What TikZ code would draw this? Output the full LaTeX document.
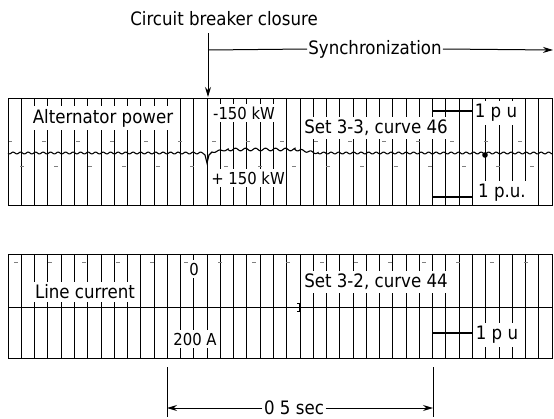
\documentclass[tikz,border=0pt]{standalone}
\usepackage{fontspec}
\newfontfamily\chartfont{DejaVu Sans Condensed}
\usetikzlibrary{arrows.meta}
\begin{document}
\begin{tikzpicture}[x=1pt,y=-1pt,
  gridline/.style={line width=0.75pt},
  chartframe/.style={line width=1pt},
  faint/.style={line width=0.5pt, gray, dash pattern=on 4pt off 30pt},
  lbl/.style={fill=white, inner xsep=1.5pt, inner ysep=3pt, font=\chartfont\fontsize{18.5}{21}\selectfont},
  slbl/.style={fill=white, inner xsep=1.5pt, inner ysep=3pt, font=\chartfont\fontsize{16.5}{19}\selectfont},
  ann/.style={inner sep=1pt, font=\chartfont\fontsize{18.5}{21}\selectfont},
  scalebar/.style={line width=2pt},
  tracepen/.style={line width=1.1pt},
  dimline/.style={line width=1pt},
  tip/.style={-{Stealth[length=10pt,width=6pt]}},
]
\useasboundingbox (0,0) rectangle (554,418);

% grids
\foreach \i in {0,...,41} {
  \pgfmathsetmacro\xx{8+\i*13.268}
  \draw[gridline] (\xx,98) -- (\xx,205);
  \draw[gridline] (\xx,254) -- (\xx,358);
}
\draw[faint] (8,141) -- (552,141);
\draw[faint] (20,166) -- (552,166);
\draw[faint] (14,262) -- (552,262);
\draw[chartframe] (8,98) rectangle (552,205);
\draw[chartframe] (8,254) rectangle (552,358);
\draw[gridline] (8,307) -- (552,307);

% trace of the alternator power
\draw[tracepen] plot[domain=8:203, samples=260] (\x, {153+0.9*sin(\x*48)})
  -- (205,155) -- (207,163) -- (209,155) -- (212,152)
  -- plot[domain=212:228, samples=25] (\x, {152-2.5*(\x-212)/16+0.8*sin((\x-212)*36)})
  -- plot[domain=228:295, samples=100] (\x, {149.5+1.3*sin((\x-228)*36)})
  -- plot[domain=295:318, samples=35] (\x, {149.5+3.5*(\x-295)/23+1.0*sin((\x-295)*40)})
  -- plot[domain=318:552, samples=320] (\x, {153+0.9*sin((\x-318)*48)});
\fill (485,155) circle (2.8);

% lower chart marker
\draw[line width=0.8pt] (299,303) -- (299,311) (297,303) -- (301,303) (297,311) -- (301,311);

% scale bars
\draw[scalebar] (433,111) -- (472,111);
\draw[scalebar] (433,197) -- (472,197);
\draw[scalebar] (433,333) -- (472,333);

% labels of the upper chart
\node[lbl]  (alt)  at (103,118) {Alternator power};
\node[slbl] (mkw)  at (244,113) {-150 kW};
\node[slbl] (pkw)  at (248,178) {+ 150 kW};
\node[lbl]  (set1) at (376,128) {Set 3-3, curve 46};
\node[lbl]  (pu1)  at (496,113) {1 p u};
\node[lbl]  (pu2)  at (502,193) {1 p.u.};

% labels of the lower chart
\node[lbl]  (line) at (85,292)  {Line current};
\node[slbl] (zero) at (194,269) {0};
\node[slbl] (amp)  at (195,339) {200 A};
\node[lbl]  (set2) at (376,282) {Set 3-2, curve 44};
\node[lbl]  (pu3)  at (497,335) {1 p u};

% circuit breaker closure and synchronization
\node[ann] (cb) at (224,19) {Circuit breaker closure};
\coordinate (cbtop) at (208,33);
\coordinate (cbend) at (208,97);
\draw[dimline,tip] (cbtop) -- (cbend);
\node[ann] (sync) at (375,49) {Synchronization};
\coordinate (syncL) at (208,50);
\coordinate (syncR) at (553,50);
\draw[dimline] (syncL) -- (sync.west);
\draw[dimline,tip] (sync.east) -- (syncR);

% time scale
\coordinate (dl1) at (167,367);
\coordinate (dl2) at (167,417);
\coordinate (dr1) at (433,367);
\coordinate (dr2) at (433,417);
\draw[dimline] (dl1) -- (dl2);
\draw[dimline] (dr1) -- (dr2);
\node[lbl, fill=none] (sec) at (294,408) {0 5 sec};
\coordinate (al) at (167,408);
\coordinate (ar) at (433,408);
\draw[dimline,tip] (sec.west) -- (al);
\draw[dimline,tip] (sec.east) -- (ar);
\end{tikzpicture}
\end{document}
